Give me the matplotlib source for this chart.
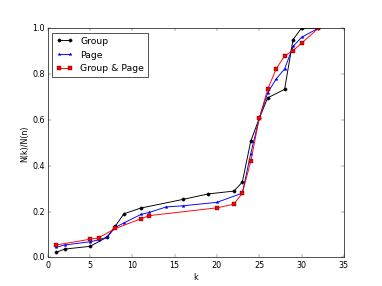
import matplotlib
matplotlib.use('Agg')
import matplotlib.pyplot as plt

plt.style.use('classic')

group_k = [1, 2, 5, 7, 8, 9, 11, 16, 19, 22, 23, 24, 25, 26, 28, 29, 30, 32]
group_v = [0.022, 0.036, 0.048, 0.088, 0.137, 0.19, 0.215, 0.253, 0.277, 0.289,
           0.328, 0.507, 0.606, 0.696, 0.733, 0.95, 1.0, 1.0]

page_k = [1, 2, 5, 6, 7, 8, 9, 11, 12, 14, 16, 20, 23, 24, 25, 26, 27, 28, 29, 30, 32]
page_v = [0.044, 0.054, 0.068, 0.076, 0.088, 0.131, 0.15, 0.187, 0.196, 0.22, 0.225,
          0.24, 0.28, 0.453, 0.606, 0.718, 0.778, 0.822, 0.92, 0.96, 1.0]

gp_k = [1, 5, 6, 8, 11, 12, 20, 22, 23, 24, 25, 26, 27, 28, 29, 30, 32]
gp_v = [0.054, 0.079, 0.085, 0.126, 0.168, 0.182, 0.216, 0.232, 0.28, 0.419,
        0.606, 0.733, 0.822, 0.879, 0.902, 0.934, 1.0]

fig = plt.figure(figsize=(8, 6), dpi=47.75)
ax = fig.add_subplot(111)

ax.plot(group_k, group_v, color='k', marker='o', markersize=5, linewidth=1.4, label='Group')
ax.plot(page_k, page_v, color='b', marker='*', markersize=5, markeredgecolor='b',
        linewidth=1.4, label='Page')
ax.plot(gp_k, gp_v, color='r', marker='s', markersize=6, linewidth=1.4, label='Group & Page')

ax.set_xlim(0, 35)
ax.set_ylim(0, 1.0)
ax.set_xlabel('k', fontsize=12)
ax.set_ylabel('N(k)/N(n)', fontsize=12)
ax.tick_params(labelsize=12)
ax.legend(loc='upper left', fontsize=14, handlelength=1.8)

fig.savefig('out.png', dpi=47.75, facecolor='white')
